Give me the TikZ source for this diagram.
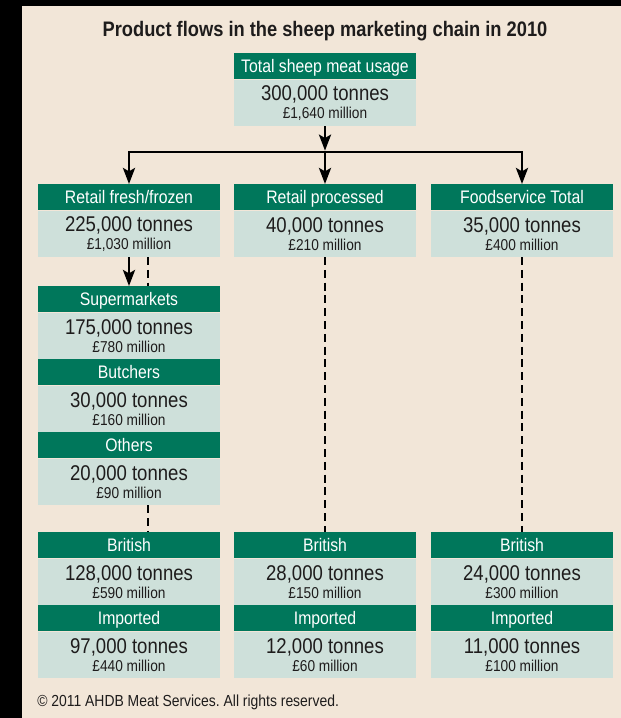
\documentclass[tikz,border=0pt]{standalone}
\usepackage{fontspec}
\setmainfont{Liberation Sans}[FakeStretch=0.87]
\usetikzlibrary{positioning,arrows.meta}
\definecolor{hdrgreen}{RGB}{0,119,91}
\definecolor{bodyblue}{RGB}{206,224,218}
\definecolor{paper}{RGB}{242,230,216}
\definecolor{ink}{RGB}{30,28,28}
\newcommand{\hdrfont}{\fontsize{13.6}{15}\selectfont}
\newcommand{\numfont}{\fontsize{16}{13.7}\selectfont}
\newcommand{\milfont}{\fontsize{11.8}{13.7}\selectfont}
\frenchspacing
\tikzset{
	hdr/.style={fill=hdrgreen, text=white, font=\hdrfont, minimum width=136.5pt, minimum height=19.5pt,
		text height=9.7pt, text depth=0pt, inner sep=0pt, anchor=north},
	val/.style={fill=bodyblue, text=ink, font=\numfont, align=center, minimum width=136.5pt,
		minimum height=34.5pt, inner sep=0pt, below=0pt of #1},
	arr/.style={line width=2.1pt, -{Stealth[length=12pt,width=9pt,inset=2.5pt]}},
	dashline/.style={line width=2.1pt, dash pattern=on 6pt off 3.6pt},
}
\begin{document}
\begin{tikzpicture}[x=0.75pt, y=-0.75pt]
		\useasboundingbox (0,0) rectangle (621,718);
		\fill[black] (0,0) rectangle (621,718);
		\fill[paper] (22,6) rectangle (621,718);
		\node[font=\bfseries\fontsize{15.75}{18}\selectfont, text=ink, inner sep=0pt, anchor=base] (title) at (325,36.7) {Product flows in the sheep marketing chain in 2010};
		% total
		\node[hdr] (total) at (325,53) {Total sheep meat usage};
		\node[val=total] (totalv) {300,000 tonnes\\{\milfont £1,640 million}};
		% second row
		\node[hdr] (fresh) at (129,184) {Retail fresh/frozen};
		\node[val=fresh] (freshv) {225,000 tonnes\\{\milfont £1,030 million}};
		\node[hdr] (proc) at (325,184) {Retail processed};
		\node[val=proc] (procv) {40,000 tonnes\\{\milfont £210 million}};
		\node[hdr] (food) at (522,184) {Foodservice Total};
		\node[val=food] (foodv) {35,000 tonnes\\{\milfont £400 million}};
		% retail outlets
		\node[hdr] (super) at (129,286) {Supermarkets};
		\node[val=super] (superv) {175,000 tonnes\\{\milfont £780 million}};
		\node[hdr, below=0pt of superv] (butch) {Butchers};
		\node[val=butch] (butchv) {30,000 tonnes\\{\milfont £160 million}};
		\node[hdr, below=0pt of butchv] (other) {Others};
		\node[val=other] (otherv) {20,000 tonnes\\{\milfont £90 million}};
		% origin
		\node[hdr] (brit1) at (129,532) {British};
		\node[val=brit1] (brit1v) {128,000 tonnes\\{\milfont £590 million}};
		\node[hdr, below=0pt of brit1v] (imp1) {Imported};
		\node[val=imp1] (imp1v) {97,000 tonnes\\{\milfont £440 million}};
		\node[hdr] (brit2) at (325,532) {British};
		\node[val=brit2] (brit2v) {28,000 tonnes\\{\milfont £150 million}};
		\node[hdr, below=0pt of brit2v] (imp2) {Imported};
		\node[val=imp2] (imp2v) {12,000 tonnes\\{\milfont £60 million}};
		\node[hdr] (brit3) at (522,532) {British};
		\node[val=brit3] (brit3v) {24,000 tonnes\\{\milfont £300 million}};
		\node[hdr, below=0pt of brit3v] (imp3) {Imported};
		\node[val=imp3] (imp3v) {11,000 tonnes\\{\milfont £100 million}};
		\node[font=\fontsize{12}{13}\selectfont, text=ink, inner sep=0pt, anchor=base west] (copy) at (37,706.7) {© 2011 AHDB Meat Services. All rights reserved.};
		% flows
		\coordinate (split) at (325,152);
		\draw[arr, shorten >=1pt] (totalv) -- (split);
		\draw[arr] (split) -| (fresh);
		\draw[arr] (split) -- (proc);
		\draw[arr] (split) -| (food);
		\draw[arr] (freshv) -- (super);
		\draw[dashline] ([xshift=14.25pt]freshv.south) -- ([xshift=14.25pt]super.north);
		\draw[dashline] ([xshift=14.25pt]otherv.south) -- ([xshift=14.25pt]brit1.north);
		\draw[dashline] (procv) -- (brit2);
		\draw[dashline] (foodv) -- (brit3);
	\end{tikzpicture}
\end{document}
